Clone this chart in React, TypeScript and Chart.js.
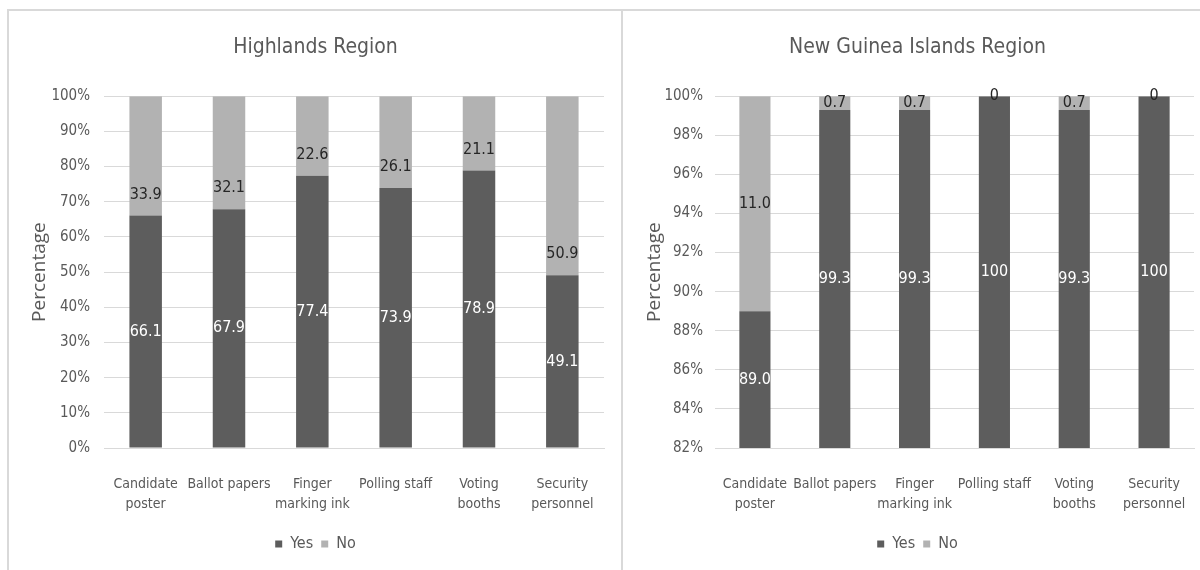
import React, { useEffect, useRef } from "react";
import { Chart, registerables } from "chart.js";

Chart.register(...registerables);

// ---------- data ----------
const categories: (string | string[])[] = [
  ["Candidate", "poster"],
  "Ballot papers",
  ["Finger", "marking ink"],
  "Polling staff",
  ["Voting", "booths"],
  ["Security", "personnel"],
];
const seriesNames = ["Yes", "No"];

const highlandsTitle = "Highlands Region";
const highlandsYes = [66.1, 67.9, 77.4, 73.9, 78.9, 49.1];
const highlandsNo = [33.9, 32.1, 22.6, 26.1, 21.1, 50.9];
const highlandsAxis = { min: 0, max: 100, step: 10 };

const ngiTitle = "New Guinea Islands Region";
const ngiYes = [89.0, 99.3, 99.3, 100, 99.3, 100];
const ngiNo = [11.0, 0.7, 0.7, 0, 0.7, 0];
const ngiAxis = { min: 82, max: 100, step: 2 };

const yAxisTitle = "Percentage";

// ---------- styles ----------
const DARK = "#5d5d5d";
const LIGHT = "#b2b2b2";
const TEXT = "#595959";
const GRID = "#d9d9d9";
const FONT = "'Liberation Sans Narrow', 'DejaVu Sans Condensed', 'Roboto', sans-serif";

const fmt = (v: number) => (v === 0 || v === 100 ? String(v) : v.toFixed(1));

const labelPlugin = {
  id: "segLabels",
  afterDatasetsDraw(chart: any, _args: any, opts: any) {
    const ctx = chart.ctx;
    const area = chart.chartArea;
    ctx.save();
    ctx.font = `16px ${FONT}`;
    ctx.textAlign = "center";
    ctx.textBaseline = "middle";
    chart.data.datasets.forEach((ds: any, di: number) => {
      const meta = chart.getDatasetMeta(di);
      const mode = (opts.modes || [])[di] || "center";
      ctx.fillStyle = (opts.colors || [])[di] || "#000";
      meta.data.forEach((el: any, i: number) => {
        const v = ds.data[i];
        const p = el.getProps(["x", "y", "base"], true);
        let top = Math.min(p.y, p.base);
        let bot = Math.max(p.y, p.base);
        top = Math.max(top, area.top);
        bot = Math.min(bot, area.bottom);
        let y = (top + bot) / 2;
        if (mode === "base") y = bot - (opts.baseOffset || 20);
        ctx.fillText(fmt(v), p.x, y);
      });
    });
    ctx.restore();
  },
};

type PanelProps = {
  title: string;
  yes: number[];
  no: number[];
  axis: { min: number; max: number; step: number };
  width: number;
  height: number;
  padLeft: number;
  yWidth: number;
  yTickPad: number;
  yTitlePad: number;
  padRight: number;
  noMode: string;
};

function Panel(props: PanelProps) {
  const ref = useRef<HTMLCanvasElement | null>(null);
  useEffect(() => {
    if (!ref.current) return;
    const chart = new Chart(ref.current, {
      type: "bar",
      data: {
        labels: categories,
        datasets: [
          { label: seriesNames[0], data: props.yes, backgroundColor: DARK, borderWidth: 0 },
          { label: seriesNames[1], data: props.no, backgroundColor: LIGHT, borderWidth: 0 },
        ],
      },
      plugins: [labelPlugin],
      options: {
        responsive: false,
        animation: false,
        devicePixelRatio: 1,
        layout: { padding: { left: props.padLeft, right: props.padRight, top: 0, bottom: 8 } },
        datasets: { bar: { barPercentage: 0.39, categoryPercentage: 1 } },
        plugins: {
          tooltip: { enabled: false },
          title: {
            display: true,
            text: props.title,
            color: TEXT,
            font: { family: FONT, size: 21, weight: "normal" },
            padding: { top: 24, bottom: 36 },
          },
          legend: {
            position: "bottom",
            labels: {
              color: TEXT,
              font: { family: FONT, size: 16 },
              boxWidth: 7,
              boxHeight: 7,
              padding: 8,
            },
          },
          segLabels: {
            modes: ["center", props.noMode],
            colors: ["#ffffff", "#262626"],
            baseOffset: 21,
          },
        } as any,
        scales: {
          x: {
            stacked: true,
            grid: { display: false },
            border: { display: true, color: GRID },
            ticks: {
              color: TEXT,
              font: { family: FONT, size: 14, lineHeight: 1.4 },
              padding: 19,
              maxRotation: 0,
              autoSkip: false,
            },
            afterFit: (scale: any) => {
              scale.height = 80;
              scale.paddingLeft = 0;
              scale.paddingRight = 0;
            },
          },
          y: {
            stacked: true,
            min: props.axis.min,
            max: props.axis.max,
            grid: { color: GRID, drawTicks: false },
            border: { display: false },
            ticks: {
              stepSize: props.axis.step,
              color: TEXT,
              font: { family: FONT, size: 15 },
              padding: props.yTickPad,
              callback: (v: any) => `${v}%`,
            },
            title: {
              display: true,
              text: yAxisTitle,
              color: TEXT,
              font: { family: "'Open Sans', sans-serif", size: 19 },
              padding: { top: props.yTitlePad, bottom: 0 },
            },
            afterFit: (scale: any) => {
              scale.width = props.yWidth;
            },
          },
        },
      },
    });
    return () => chart.destroy();
  }, []);
  return <canvas ref={ref} width={props.width} height={props.height} style={{ display: "block", width: props.width, height: props.height }} />;
}

export default function App() {
  return (
    <div style={{ position: "absolute", left: 0, top: 0, width: 1200, height: 570, background: "#fff", overflow: "hidden" }}>
      <div style={{ position: "absolute", left: 7, top: 9, width: 1193, height: 2, background: GRID }} />
      <div style={{ position: "absolute", left: 7, top: 9, width: 2, height: 561, background: GRID }} />
      <div style={{ position: "absolute", left: 621, top: 9, width: 2, height: 561, background: GRID }} />
      <div style={{ position: "absolute", left: 9, top: 11 }}>
        <Panel title={highlandsTitle} yes={highlandsYes} no={highlandsNo} axis={highlandsAxis}
          width={612} height={559} padLeft={18} yWidth={77} yTickPad={14} yTitlePad={1}
          padRight={17} noMode="base" />
      </div>
      <div style={{ position: "absolute", left: 623, top: 11 }}>
        <Panel title={ngiTitle} yes={ngiYes} no={ngiNo} axis={ngiAxis}
          width={591} height={559} padLeft={18} yWidth={74} yTickPad={12} yTitlePad={2}
          padRight={20} noMode="center" />
      </div>
    </div>
  );
}
